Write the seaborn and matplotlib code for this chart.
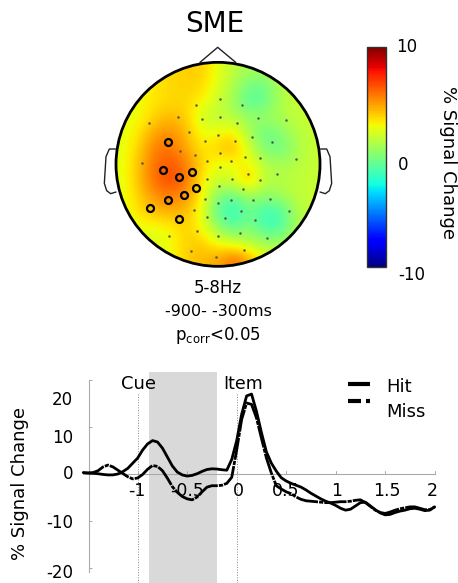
import numpy as np
import pandas as pd
import matplotlib
matplotlib.use("Agg")
import matplotlib.pyplot as plt
import seaborn as sns
from matplotlib.patches import Circle

# topo values (% signal change), rows top->bottom of the head
topo = [
    [2.6, 2.8, 3.3, 3.6, 3.8, 3.8, 2.6, 1.6, 1.0, 1.0, 1.6, 1.8, 1.8],
    [2.6, 2.8, 3.3, 3.6, 3.8, 3.6, 2.4, 1.2, -0.3, -0.3, 1.2, 1.8, 1.8],
    [2.6, 2.8, 3.3, 3.6, 3.6, 3.0, 2.0, 0.8, -1.0, -0.5, 1.2, 1.8, 1.8],
    [2.6, 2.8, 3.8, 4.3, 3.8, 2.0, 1.5, 1.4, 0.6, 0.8, 1.2, 1.7, 1.8],
    [2.6, 3.3, 4.8, 5.2, 4.2, 2.6, 2.8, 3.2, 1.0, -0.5, 0.2, 1.4, 1.8],
    [2.6, 3.8, 5.6, 5.8, 4.6, 3.2, 3.8, 4.6, 2.0, 0.0, -0.4, 1.0, 1.8],
    [2.6, 4.2, 5.9, 6.4, 5.5, 3.6, 2.6, 2.6, 3.0, 1.4, 1.0, 1.4, 1.8],
    [2.6, 4.2, 6.0, 6.8, 5.8, 3.0, 2.0, 2.4, 4.4, 1.4, 1.4, 1.6, 1.8],
    [2.6, 3.8, 5.2, 5.6, 5.0, 3.0, 0.2, -0.5, 1.0, 0.5, 1.0, 1.6, 1.8],
    [2.6, 3.5, 4.2, 4.6, 4.2, 2.6, -1.0, -2.0, -0.3, -1.5, -1.3, 1.2, 1.8],
    [2.3, 2.7, 2.8, 3.0, 3.8, 2.8, 0.6, -1.0, 0.3, -1.5, -1.2, 1.0, 1.8],
    [2.2, 2.2, 2.3, 2.8, 3.8, 3.8, 2.6, 2.0, 1.4, 0.8, 0.8, 1.6, 1.8],
    [2.2, 2.2, 2.3, 2.8, 3.8, 4.3, 4.6, 6.0, 4.6, 2.6, 2.0, 1.8, 1.8],
]

# electrodes
sens_x = [389, 318, 455, 265, 337, 390, 505, 588, 178, 441, 296, 385, 486, 345, 434, 545, 270, 390,
          316, 464, 511, 617, 156, 351, 424, 389, 473, 562, 352, 425, 511, 388, 458, 345, 383, 423,
          490, 539, 313, 454, 598, 352, 406, 496, 322, 449, 237, 384, 531, 303, 463, 378]
sens_y = [296, 315, 315, 352, 358, 350, 353, 360, 370, 370, 397, 404, 412, 422, 422, 427, 454, 460,
          465, 470, 473, 476, 488, 484, 484, 502, 523, 521, 536, 538, 540, 557, 568, 598, 608, 601,
          601, 598, 629, 634, 632, 651, 655, 661, 693, 698, 709, 709, 713, 752, 749, 772]
sig_x = [233, 219, 268, 307, 319, 282, 234, 180, 268]
sig_y = [427, 509, 530, 516, 563, 585, 601, 625, 656]

# time courses, read every 0.05 s
time_s = [-1.55, -1.5, -1.45, -1.4, -1.35, -1.3, -1.25, -1.2, -1.15, -1.1, -1.05, -1.0,
          -0.95, -0.9, -0.85, -0.8, -0.75, -0.7, -0.65, -0.6, -0.55, -0.5, -0.45, -0.4,
          -0.35, -0.3, -0.25, -0.2, -0.15, -0.1, -0.05, 0.0, 0.05, 0.1, 0.15, 0.2,
          0.25, 0.3, 0.35, 0.4, 0.45, 0.5, 0.55, 0.6, 0.65, 0.7, 0.75, 0.8,
          0.85, 0.9, 0.95, 1.0, 1.05, 1.1, 1.15, 1.2, 1.25, 1.3, 1.35, 1.4,
          1.45, 1.5, 1.55, 1.6, 1.65, 1.7, 1.75, 1.8, 1.85, 1.9, 1.95, 2.0]
hit = [0.2, 0.1, 0.05, -0.05, -0.2, -0.3, -0.3, -0.1, 0.4, 1.1, 2.2, 3.3,
       5.0, 6.3, 7.0, 6.7, 5.4, 3.5, 1.6, 0.3, -0.3, -0.55, -0.4, -0.05,
       0.45, 0.85, 1.0, 0.95, 0.8, 0.7, 3.0, 7.0, 12.6, 16.5, 16.9, 13.2,
       8.7, 4.6, 2.2, 0.5, -0.9, -1.6, -2.1, -2.5, -2.9, -3.5, -4.2, -4.8,
       -5.4, -5.9, -6.3, -6.8, -7.4, -7.8, -7.6, -6.9, -6.2, -6.1, -6.9, -7.7,
       -8.4, -8.8, -8.7, -8.3, -8.0, -7.8, -7.5, -7.4, -7.6, -7.9, -7.8, -7.1]
miss = [0.1, 0.1, 0.2, 0.6, 1.4, 1.8, 1.4, 0.7, 0.0, -0.7, -1.15, -0.95,
        -0.2, 0.9, 1.7, 1.5, 0.6, -1.0, -2.8, -4.0, -4.9, -5.4, -5.6, -5.0,
        -3.9, -2.9, -2.6, -2.6, -2.5, -2.1, -0.8, 5.0, 11.5, 15.0, 14.7, 11.8,
        7.5, 3.3, 0.1, -2.6, -3.3, -3.9, -4.3, -5.0, -5.5, -5.8, -5.9, -6.0,
        -6.1, -6.2, -6.2, -6.1, -6.0, -6.0, -5.9, -5.7, -5.6, -6.2, -7.0, -7.8,
        -8.3, -8.5, -8.2, -7.8, -7.5, -7.3, -7.1, -7.1, -7.4, -7.7, -7.7, -7.1]
x_ticks = [-1, -0.5, 0, 0.5, 1, 1.5, 2]
x_labels = ["-1", "-0.5", "0", "0.5", "1", "1.5", "2"]
y_ticks = [-20, -10, 0, 10, 20]
y_labels = ["-20", "-10", "0", "10", "20"]

sns.set_theme(style="white")
plt.rcParams["font.family"] = ["DejaVu Sans"]
plt.rcParams["text.color"] = "black"
W, H = 458, 583
fig = plt.figure(figsize=(W / 100, H / 100), dpi=100)


def rect(x0, y0, x1, y1):
    return [x0 / W, 1 - y1 / H, (x1 - x0) / W, (y1 - y0) / H]


# %% head
ax = fig.add_axes(rect(90, 0, 350, 270))
im = ax.imshow(topo, cmap="jet", vmin=-10, vmax=10, interpolation="bicubic",
               extent=(77.5, 688.5, 797.5, 186.5), aspect="equal")
im.set_clip_path(Circle((384, 493), 306, transform=ax.transData))
ax.add_patch(Circle((384, 493), 306, fill=False, ec="black", lw=2, zorder=3))
ax.plot([330, 383, 437], [187, 142, 187], color="#222222", lw=1)
ear_x = [76, 58, 48, 43, 50, 62, 78]
ear_y = [447, 447, 470, 550, 572, 581, 576]
ax.plot(ear_x, ear_y, color="#222222", lw=1)
ax.plot([768 - e for e in ear_x], ear_y, color="#222222", lw=1)
ax.plot(sens_x, sens_y, ls="none", marker="o", ms=1.8, color="#555555", mew=0)
ax.plot(sig_x, sig_y, ls="none", marker="o", ms=5, mfc="none", mec="black", mew=1.6)
ax.set_xlim(0, 780)
ax.set_ylim(810, 0)
ax.axis("off")

# %% colorbar
cax = fig.add_axes(rect(367, 47, 386, 267))
cb = fig.colorbar(im, cax=cax, ticks=np.arange(-10, 11, 2))
cb.ax.tick_params(direction="in", length=2.5, width=0.7, color="#222222", left=True, right=True,
                  labelright=False)
cb.outline.set_linewidth(1)
cb.outline.set_edgecolor("#333333")

# %% time course
data = pd.concat([
    pd.DataFrame({"t": time_s, "v": hit, "cond": "Hit"}),
    pd.DataFrame({"t": time_s, "v": miss, "cond": "Miss"}),
])
ax2 = fig.add_axes(rect(80, 372, 440, 583))
ax2.set_xlim((80 - 236.7) / 99, (440 - 236.7) / 99)
ax2.set_ylim((473.5 - 583) / 4.7, (473.5 - 372) / 4.7)
ax2.axvspan(-0.885, -0.195, color="#d9d9d9", lw=0, zorder=0)
ax2.vlines([-1, 0], -23.3, 17, color="#888888", lw=0.7, linestyles=":", zorder=1)
sns.lineplot(data=data, x="t", y="v", hue="cond", style="cond", palette=["black", "black"],
             dashes={"Hit": "", "Miss": (8, 0.4, 1.5, 0.4)}, lw=2, errorbar=None, legend=False,
             ax=ax2, zorder=3)
ax2.patch.set_alpha(0)
for s in ["top", "right"]:
    ax2.spines[s].set_visible(False)
ax2.spines["left"].set_position(("data", -1.49))
ax2.spines["left"].set_bounds(-21, 20)
ax2.spines["bottom"].set_position(("data", 0))
ax2.spines["bottom"].set_bounds(-1.49, 2)
for s in ["left", "bottom"]:
    ax2.spines[s].set_color("#aaaaaa")
    ax2.spines[s].set_linewidth(0.8)
ax2.set_xticks(x_ticks)
ax2.set_yticks(y_ticks)
ax2.tick_params(axis="x", bottom=False, top=False, labelbottom=False)
ax2.tick_params(axis="y", direction="in", length=2, width=0.7, color="#aaaaaa",
                left=True, labelleft=False)
ax2.set_xlabel("")
ax2.set_ylabel("")
for xt in x_ticks:
    ax2.plot([xt, xt], [0, 0.6], color="#aaaaaa", lw=0.7, zorder=1)

# %% texts, in reference pixels
ov = fig.add_axes([0, 0, 1, 1])
ov.set_xlim(0, W)
ov.set_ylim(H, 0)
ov.axis("off")
ov.text(215, 24, "SME", ha="center", va="center", fontsize=20)
ov.text(218, 288, "5-8Hz", ha="center", va="center", fontsize=12)
ov.text(218, 312, "-900- -300ms", ha="center", va="center", fontsize=11.5)
ov.text(218, 336, "p$_{\\mathrm{corr}}$<0.05", ha="center", va="center", fontsize=12)
ov.text(407, 47, "10", ha="center", va="center", fontsize=12)
ov.text(403, 165, "0", ha="center", va="center", fontsize=12)
ov.text(412, 275, "-10", ha="center", va="center", fontsize=12)
ov.text(448, 163, "% Signal Change", ha="center", va="center", rotation=270, fontsize=13)
ov.text(20, 483, "% Signal Change", ha="center", va="center", rotation=90, fontsize=13)
ylab_y = [573, 523, 474, 438, 400]
for lab, yy in zip(y_labels, ylab_y):
    ov.text(73, yy, lab, ha="right", va="center", fontsize=12)
xlab_x = [137, 187, 238, 286, 337, 387, 432]
for lab, xx in zip(x_labels, xlab_x):
    ov.text(xx, 491, lab, ha="center", va="center", fontsize=12.5)
ov.text(139, 384, "Cue", ha="center", va="center", fontsize=13)
ov.text(243, 384, "Item", ha="center", va="center", fontsize=12.5)
ov.plot([348, 370], [384, 384], color="black", lw=3, solid_capstyle="butt")
ov.plot([348, 361], [401, 401], color="black", lw=3, solid_capstyle="butt")
ov.plot([366, 370], [401, 401], color="black", lw=3, solid_capstyle="butt")
ov.text(386, 387, "Hit", ha="left", va="center", fontsize=13)
ov.text(386, 412, "Miss", ha="left", va="center", fontsize=13)

fig.savefig("out.png", dpi=100)
